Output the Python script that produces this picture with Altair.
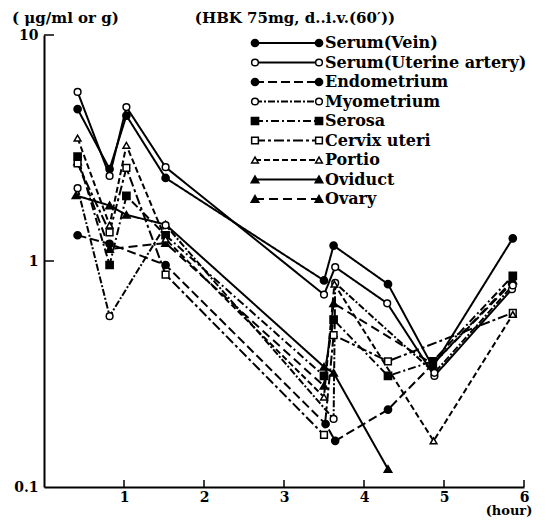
import altair as alt
import pandas as pd

SERIES = ["Serum(Vein)", "Serum(Uterine artery)", "Endometrium", "Myometrium",
          "Serosa", "Cervix uteri", "Portio", "Oviduct", "Ovary"]
SHAPES = ["circle", "circle", "circle", "circle", "square", "square",
          "triangle-up", "triangle-up", "triangle-up"]
FILLED = [True, False, True, False, True, False, False, True, True]
DASHES = [[1, 0], [1, 0], [9, 4], [7, 2, 2, 2], [8, 3, 2, 3], [10, 3, 3, 3],
          [6, 3], [1, 0], [9, 5]]

vein_h = [0.42, 0.82, 1.03, 1.52, 3.5, 3.62, 4.3, 4.86, 5.86]
vein_v = [4.7, 2.55, 4.4, 2.33, 0.82, 1.17, 0.79, 0.34, 1.26]
artery_h = [0.42, 0.82, 1.03, 1.52, 3.5, 3.64, 4.29, 4.88, 5.85]
artery_v = [5.6, 2.38, 4.8, 2.6, 0.71, 0.94, 0.65, 0.31, 0.75]
endo_h = [0.42, 0.82, 1.52, 3.52, 3.64, 4.3, 4.86, 5.85]
endo_v = [1.30, 1.19, 0.96, 0.19, 0.16, 0.22, 0.35, 0.80]
myo_h = [0.42, 0.82, 1.52, 3.62, 3.64, 4.88, 5.86]
myo_v = [2.1, 0.57, 1.44, 0.20, 0.80, 0.32, 0.78]
serosa_h = [0.42, 0.82, 1.03, 1.52, 3.5, 3.62, 4.3, 4.86, 5.86]
serosa_v = [2.9, 0.96, 1.94, 1.3, 0.31, 0.55, 0.31, 0.36, 0.86]
cervix_h = [0.42, 0.82, 1.03, 1.52, 3.5, 3.62, 4.3, 5.86]
cervix_v = [2.7, 1.34, 2.58, 0.87, 0.17, 0.47, 0.36, 0.59]
portio_h = [0.42, 0.82, 1.03, 1.52, 3.5, 3.63, 4.87, 5.86]
portio_v = [3.5, 1.44, 3.25, 1.25, 0.25, 0.79, 0.16, 0.58]
oviduct_h = [0.4, 0.82, 1.03, 1.52, 3.5, 3.62, 4.3]
oviduct_v = [1.95, 1.76, 1.6, 1.45, 0.34, 0.32, 0.12]
ovary_h = [0.42, 0.82, 1.52, 3.5, 3.62, 4.86, 5.86]
ovary_v = [2.75, 1.13, 1.2, 0.28, 0.65, 0.35, 0.82]

ALL = [(vein_h, vein_v), (artery_h, artery_v), (endo_h, endo_v), (myo_h, myo_v),
       (serosa_h, serosa_v), (cervix_h, cervix_v), (portio_h, portio_v),
       (oviduct_h, oviduct_v), (ovary_h, ovary_v)]

rows = []
for name, filled, (hs, vs) in zip(SERIES, FILLED, ALL):
    for h, v in zip(hs, vs):
        rows.append({"series": name, "hour": h, "value": v, "filled": filled})
df = pd.DataFrame(rows)
leg = pd.DataFrame({"series": SERIES, "filled": FILLED})

W, H = 480, 452
FONT = "DejaVu Serif"

x_scale = alt.Scale(domain=[0, 6], nice=False, zero=False)
y_scale = alt.Scale(type="log", domain=[0.1, 10], nice=False)
x_enc = alt.X("hour:Q", scale=x_scale,
              axis=alt.Axis(values=[1, 2, 3, 4, 5, 6], format="d", title=None, ticks=False,
                            grid=False, domainColor="black", domainWidth=2,
                            labelFont=FONT, labelFontWeight="bold", labelFontSize=14,
                            labelColor="black", labelPadding=3, labelFlush=False))
y_enc = alt.Y("value:Q", scale=y_scale,
              axis=alt.Axis(values=[0.1, 1, 10], format="~g", title=None, ticks=False,
                            grid=False, domainColor="black", domainWidth=2,
                            labelFont=FONT, labelFontWeight="bold", labelFontSize=14,
                            labelColor="black", labelPadding=6))
dash_enc = alt.StrokeDash("series:N", scale=alt.Scale(domain=SERIES, range=DASHES), legend=None)
shape_enc = alt.Shape("series:N", scale=alt.Scale(domain=SERIES, range=SHAPES), legend=None)

base = alt.Chart(df)
lines = base.mark_line(color="black", strokeWidth=2).encode(
    x=x_enc, y=y_enc, detail="series:N", strokeDash=dash_enc)
pf = base.transform_filter("datum.filled").mark_point(
    filled=True, fill="black", stroke="black", size=45, opacity=1).encode(
    x="hour:Q", y="value:Q", shape=shape_enc)
po = base.transform_filter("!datum.filled").mark_point(
    filled=True, fill="white", stroke="black", strokeWidth=1.5, size=45, opacity=1).encode(
    x="hour:Q", y="value:Q", shape=shape_enc)

xt = alt.Chart(pd.DataFrame({"hour": [1, 2, 3, 4, 5, 6]})).mark_rule(
    color="black", strokeWidth=1.5).encode(x="hour:Q", y=alt.value(H), y2=alt.value(H - 7))
yt = alt.Chart(pd.DataFrame({"value": [1, 10]})).mark_rule(
    color="black", strokeWidth=1.5).encode(y="value:Q", x=alt.value(0), x2=alt.value(10))

t1 = alt.Chart(pd.DataFrame({"t": ["( μg/ml  or  g)"]})).mark_text(
    align="left", baseline="middle", font=FONT, fontWeight="bold",
    fontSize=15, color="black").encode(text="t:N", x=alt.value(-32), y=alt.value(-17))
t2 = alt.Chart(pd.DataFrame({"t": ["(HBK 75mg, d..i.v.(60′))"]})).mark_text(
    align="center", baseline="middle", font=FONT, fontWeight="bold", fontSize=15,
    color="black").encode(text="t:N", x=alt.value(251), y=alt.value(-17))
t3 = alt.Chart(pd.DataFrame({"t": ["(hour)"]})).mark_text(
    align="center", baseline="middle", font=FONT, fontWeight="bold", fontSize=13,
    color="black").encode(text="t:N", x=alt.value(465), y=alt.value(476))

data_layer = alt.layer(lines, pf, po, xt, yt, t1, t2, t3)

ly = alt.Y("series:N", scale=alt.Scale(type="point", domain=SERIES, range=[8, 164], padding=0),
           axis=None)
lbase = alt.Chart(leg)
lrule = lbase.mark_rule(color="black", strokeWidth=2).encode(
    y=ly, x=alt.value(211), x2=alt.value(275), strokeDash=dash_enc)
lpts = []
for xv in (211, 275):
    lpts.append(lbase.transform_filter("datum.filled").mark_point(
        filled=True, fill="black", stroke="black", size=45, opacity=1).encode(
        y=ly, x=alt.value(xv), shape=shape_enc))
    lpts.append(lbase.transform_filter("!datum.filled").mark_point(
        filled=True, fill="white", stroke="black", strokeWidth=1.5, size=45, opacity=1).encode(
        y=ly, x=alt.value(xv), shape=shape_enc))
ltext = lbase.mark_text(align="left", baseline="middle", font=FONT, fontWeight="bold",
                        fontSize=16, color="black").encode(
    y=ly, x=alt.value(281), text="series:N")
legend_layer = alt.layer(lrule, *lpts, ltext)

chart = alt.layer(data_layer, legend_layer).resolve_scale(y="independent").properties(
    width=W, height=H,
    padding={"left": 36, "top": 27, "right": 14, "bottom": 30},
    autosize=alt.AutoSizeParams(type="none"),
    background="white",
).configure_view(stroke=None)

chart.save("out.html", embed_options={"renderer": "svg", "actions": False})
